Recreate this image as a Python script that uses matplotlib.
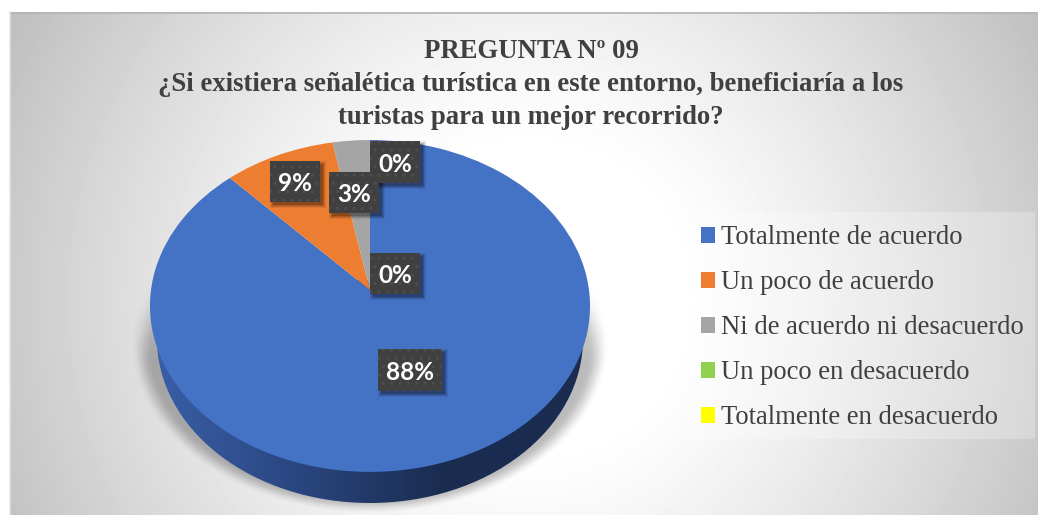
import matplotlib
matplotlib.use('Agg')
import matplotlib.pyplot as plt
import matplotlib.transforms as mtransforms
from matplotlib.colors import LinearSegmentedColormap
from matplotlib.patches import Ellipse, Rectangle
import numpy as np

W, H = 1038, 515

categories = ["Totalmente de acuerdo", "Un poco de acuerdo", "Ni de acuerdo ni desacuerdo",
              "Un poco en desacuerdo", "Totalmente en desacuerdo"]
values = [88, 9, 3, 0, 0]
labels = ["88%", "9%", "3%", "0%", "0%"]
colors = ["#4472c4", "#ed7d31", "#a5a5a5", "#92d050", "#ffff00"]
title = "PREGUNTA Nº 09\n¿Si existiera señalética turística en este entorno, beneficiaría a los\nturistas para un mejor recorrido?"

# label boxes in pixels: left, top, right, bottom (placed by hand in the original)
boxes = [(378, 349, 442, 391), (270, 161, 320, 202), (329, 172, 379, 213),
         (370, 141, 420, 183), (370, 253, 420, 294)]

TEXT = "#404040"


class Persp(mtransforms.Transform):
    # tilted disc: unit circle to pixels, back of the pie smaller
    input_dims = 2
    output_dims = 2

    def transform_non_affine(self, xy):
        xy = np.asarray(xy)
        d = 1 + 0.0962 * xy[:, 1]
        return np.column_stack([370 + 219 * xy[:, 0] / d, 290 - 164.4 * xy[:, 1] / d])


fig = plt.figure(figsize=(W / 100, H / 100), dpi=100)
ax = fig.add_axes([0, 0, 1, 1])

wedges, _ = ax.pie(values, colors=colors, startangle=90, counterclock=False, radius=1)
tr = Persp() + ax.transData
for w in wedges:
    w.set_transform(tr)
    w.set_zorder(5)
    w.set_linewidth(0)

ax.set_aspect('auto')
ax.set_frame_on(False)
ax.set_xticks([])
ax.set_yticks([])

# background
X, Y = np.meshgrid(np.arange(W) + 0.5, np.arange(H) + 0.5)
r = np.hypot(X - 530, Y - 300)
bg = 1 - 0.2 * (np.clip(r - 150, 0, None) / 360) ** 1.2
ax.imshow(bg, cmap='gray', vmin=0, vmax=1, extent=(0, W, H, 0), aspect='auto', zorder=1)
ax.add_patch(Rectangle((0, 0), 10, H, fc='white', ec='none', zorder=1.1))
ax.add_patch(Rectangle((0, 0), W, 12, fc='white', ec='none', zorder=1.1))
ax.plot([10, W], [12.5, 12.5], color='#b4b4b4', lw=1.2, zorder=1.2)
ax.plot([10, 10], [12, H], color='#e4e4e4', lw=1.2, zorder=1.2)

# soft shadow under the pie
d = np.hypot((X - 370) / 240, (Y - 342) / 172)
sh = np.clip((1 - d) / 0.09, 0, 1) * np.clip((Y - 265) / 95, 0, 1)
sh = sh * sh * (3 - 2 * sh) * 0.27
rgba = np.zeros((H, W, 4))
rgba[..., 3] = sh
ax.imshow(rgba, extent=(0, W, H, 0), aspect='auto', zorder=2)

# pie side
side = Ellipse((370, 339), 426, 328, transform=ax.transData, fc='none', ec='none')
cmap = LinearSegmentedColormap.from_list('side', ["#3a60a8", "#2a4680", "#1a2c50", "#1a2c50"])
im = ax.imshow(np.linspace(0, 1, 200)[None, :], cmap=cmap, extent=(150, 590, 510, 280),
               aspect='auto', zorder=3)
ax.add_patch(side)
im.set_clip_path(side)

# data labels
for (x0, y0, x1, y1), lab in zip(boxes, labels):
    for grow, alpha in [(3, 0.07), (2, 0.1), (1, 0.14), (0, 0.18)]:
        ax.add_patch(Rectangle((x0 + 3 - grow, y0 + 3 - grow), x1 - x0 + 2 * grow, y1 - y0 + 2 * grow,
                               fc='black', ec='none', alpha=alpha, zorder=6))
    ax.add_patch(Rectangle((x0, y0), x1 - x0, y1 - y0, fc='#404040', ec='#4e4e4e', lw=0,
                           hatch='..', zorder=7))
    ax.text((x0 + x1) / 2, (y0 + y1) / 2 + 2, lab, color='white', family='Lato', weight='bold',
            fontsize=17.5, ha='center', va='center', zorder=8)

ax.text(531, 84.5, title, family='Liberation Serif', weight='bold', fontsize=19.25, color=TEXT,
        ha='center', va='center', linespacing=1.41, zorder=8)

# legend panel, lighter than the background
ax.add_patch(Rectangle((688, 212), 347, 227, fc='white', ec='none', alpha=0.25, zorder=4))
leg = ax.legend(wedges, categories, loc='upper left', bbox_to_anchor=(688, 212),
                bbox_transform=ax.transData, prop={'family': 'Liberation Serif', 'size': 19.2},
                labelcolor=TEXT, frameon=False,
                handlelength=0.525, handleheight=0.525, handletextpad=0.2, labelspacing=0.75,
                borderaxespad=0, borderpad=0.5)
leg.set_zorder(4.5)

ax.set_xlim(0, W)
ax.set_ylim(H, 0)

fig.savefig('out.png', dpi=100)
